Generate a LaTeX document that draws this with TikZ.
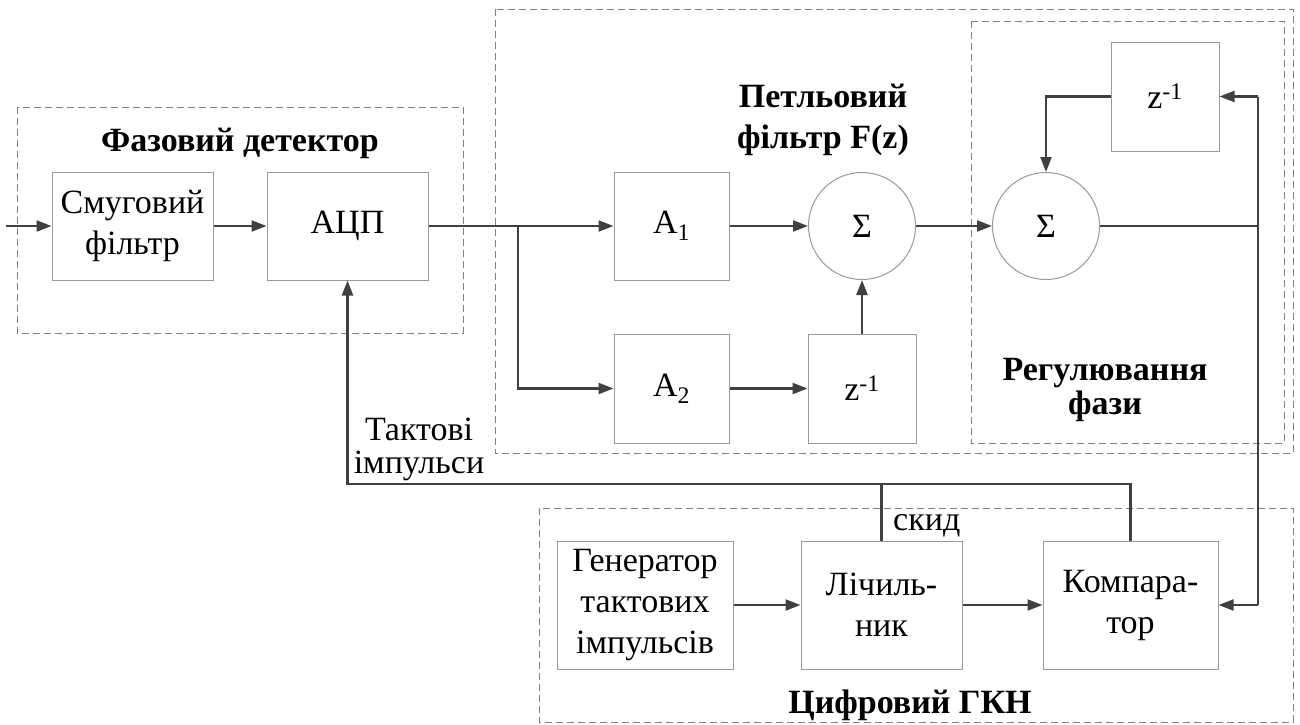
\documentclass[tikz,border=0pt]{standalone}
\usepackage{fontspec}
\setmainfont{Liberation Serif}
\usetikzlibrary{arrows.meta}
\definecolor{ln}{HTML}{404040}
\definecolor{bx}{HTML}{9A9A9A}
\definecolor{gp}{HTML}{808080}
\begin{document}
\begin{tikzpicture}[x=1pt,y=-1pt,
  blk/.style={draw=bx, line width=1pt, fill=white, align=center, font=\fontsize{34}{41}\selectfont, inner sep=0pt},
  sumc/.style={circle, draw=bx, line width=1pt, fill=white, minimum size=107pt, inner sep=0pt, font=\fontsize{34}{41}\selectfont},
  grp/.style={draw=gp, line width=1pt, dash pattern=on 7pt off 4pt},
  ttl/.style={font=\bfseries\fontsize{34}{41}\selectfont, inner sep=0pt},
  lbl/.style={font=\fontsize{34}{41}\selectfont, inner sep=0pt},
  wire/.style={draw=ln, line width=2.2pt},
  arr/.style={wire, -{Triangle[length=15pt,width=11pt]}}
]
\useasboundingbox (0,0) rectangle (1300,724);
% groups
\draw[grp] (17,107) rectangle (463,333);
\draw[grp] (495,9) rectangle (1293,453);
\draw[grp] (971,21) rectangle (1284,443);
\draw[grp] (539,508) rectangle (1293,722);
% titles
\node[ttl, anchor=base] (tpd) at (240,151) {Фазовий детектор};
\node[ttl, anchor=base] (tlf1) at (823,107) {Петльовий};
\node[ttl, anchor=base] (tlf2) at (823,148) {фільтр F(z)};
\node[ttl, anchor=base] (trf1) at (1105,380) {Регулювання};
\node[ttl, anchor=base] (trf2) at (1105,414) {фази};
\node[ttl, anchor=base] (tgk) at (910,713) {Цифровий ГКН};
\node[lbl, anchor=base] (tk1) at (419,440) {Тактові};
\node[lbl, anchor=base] (tk2) at (419,473) {імпульси};
\node[lbl, anchor=base west] (tsk) at (893,530) {скид};
% blocks
\node[blk, minimum width=161pt, minimum height=108pt] (filt) at (132.5,226) {Смуговий\\фільтр};
\node[blk, minimum width=161pt, minimum height=108pt] (adc) at (347.5,226) {АЦП};
\node[blk, minimum width=115pt, minimum height=108pt] (a1) at (671.5,226) {A\textsubscript{1}};
\node[blk, minimum width=115pt, minimum height=109pt] (a2) at (671.5,388.5) {A\textsubscript{2}};
\node[sumc] (s1) at (862,226) {Σ};
\node[blk, minimum width=108pt, minimum height=109pt] (z1) at (862,388.5) {z\textsuperscript{-1}};
\node[sumc] (s2) at (1046,226) {Σ};
\node[blk, minimum width=108pt, minimum height=109pt] (z2) at (1165,96.5) {z\textsuperscript{-1}};
\node[blk, minimum width=176pt, minimum height=128pt] (gen) at (645,605) {Генератор\\тактових\\імпульсів};
\node[blk, minimum width=161pt, minimum height=128pt] (cnt) at (881.5,605) {Лічиль-\\ник};
\node[blk, minimum width=175pt, minimum height=128pt] (comp) at (1130.5,605) {Компара-\\тор};
% connectors
\coordinate (in) at (6,226);
\coordinate (br) at (518,226);
\coordinate (rm) at (1258,226);
\coordinate (rt) at (1258,96.5);
\coordinate (rb) at (1258,605);
\coordinate (ck) at (347.5,484);
\draw[arr] (in) -- (filt);
\draw[arr] (filt) -- (adc);
\draw[wire] (adc) -- (br);
\draw[arr] (br) -- (a1);
\draw[arr] (br) |- (a2);
\draw[arr] (a1) -- (s1);
\draw[arr] (a2) -- (z1);
\draw[arr] (z1) -- (s1);
\draw[arr] (s1) -- (s2);
\draw[wire] (s2) -- (rm);
\draw[wire] (rt) -- (rb);
\draw[arr] (rt) -- (z2);
\draw[arr] (z2) -| (s2);
\draw[arr] (rb) -- (comp);
\draw[arr] (gen) -- (cnt);
\draw[arr] (cnt) -- (comp);
\draw[arr] (comp.north) |- (ck) -- (adc.south);
\draw[wire] (cnt.north) -- (cnt.north |- ck);
\end{tikzpicture}
\end{document}
